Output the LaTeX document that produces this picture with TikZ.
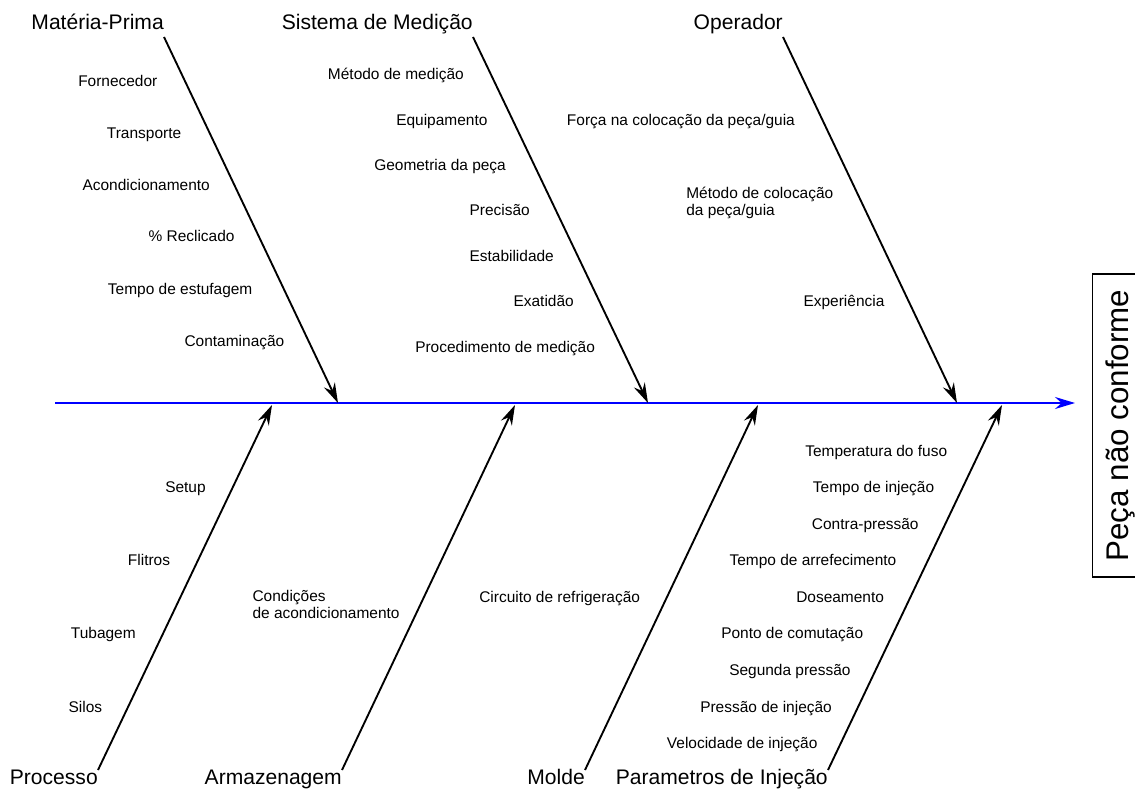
\documentclass[tikz,border=0pt]{standalone}
\usepackage{fontspec}
\setmainfont{Liberation Sans}
\usepackage{xcolor}
\definecolor{cSpine}{RGB}{0,0,255}
\definecolor{cBone}{RGB}{0,0,0}
\usepackage{tikz}
\usetikzlibrary{arrows.meta}
\tikzset{
  node-cause/.style={inner xsep=0pt,inner ysep=3pt,text height=0.73em,
    text depth=0.21em,font=\fontsize{15.8}{18}\selectfont},
  node-item/.style={inner sep=0pt,align=left,anchor=base west,
    font=\fontsize{11.6}{12.75}\selectfont},
  node-effect/.style={draw,line width=1.2pt,rotate=90,inner sep=0pt,
    minimum width=227pt,minimum height=41pt,font=\fontsize{23.5}{26}\selectfont},
  % espinha azul e ramos pretos
  arrow-bone/.style={-{Stealth[length=15pt,width=9pt,inset=5pt]},line width=1.4pt,draw=cBone},
  arrow-spine/.style={-{Stealth[length=15pt,width=9pt,inset=5pt]},line width=1.6pt,draw=cSpine},
}

\begin{document}
\begin{tikzpicture}[x=0.75pt,y=-0.75pt]
  \useasboundingbox (0,0) rectangle (1135,798);

  % espinha
  \coordinate (spS) at (55,403);
  \coordinate (spE) at (1075,403);
  \draw[arrow-spine] (spS) -- (spE);
  \node[node-effect] (eff) at (1120,425.5) {Peça não conforme};

  % causas de cima
  \node[node-cause,anchor=south east] (mp) at (164,37) {Matéria-Prima};
  \node[node-cause,anchor=south east] (sm) at (473,37) {Sistema de Medição};
  \node[node-cause,anchor=south east] (op) at (783,37) {Operador};
  \coordinate (mpE) at (338,403);
  \coordinate (smE) at (648,403);
  \coordinate (opE) at (957,403);
  \draw[arrow-bone] (mp.south east) -- (mpE);
  \draw[arrow-bone] (sm.south east) -- (smE);
  \draw[arrow-bone] (op.south east) -- (opE);

  % causas de baixo
  \node[node-cause,anchor=north east] (pr) at (98,770) {Processo};
  \node[node-cause,anchor=north east] (ar) at (342,770) {Armazenagem};
  \node[node-cause,anchor=north east] (mo) at (585,770) {Molde};
  \node[node-cause,anchor=north east] (pi) at (828,770) {Parametros de Injeção};
  \coordinate (prE) at (272,405);
  \coordinate (arE) at (515,405);
  \coordinate (moE) at (758,405);
  \coordinate (piE) at (1002,405);
  \draw[arrow-bone] (pr.north east) -- (prE);
  \draw[arrow-bone] (ar.north east) -- (arE);
  \draw[arrow-bone] (mo.north east) -- (moE);
  \draw[arrow-bone] (pi.north east) -- (piE);

  % Matéria-Prima
  \node[node-item] (mp1) at (78,87) {Fornecedor};
  \node[node-item] (mp2) at (106.7,139) {Transporte};
  \node[node-item] (mp3) at (82.3,190.5) {Acondicionamento};
  \node[node-item] (mp4) at (148.3,242) {\% Reclicado};
  \node[node-item] (mp5) at (107.7,294.3) {Tempo de estufagem};
  \node[node-item] (mp6) at (184.3,346.5) {Contaminação};

  % Sistema de Medição
  \node[node-item] (sm1) at (327.7,79.3) {Método de medição};
  \node[node-item] (sm2) at (396,125.3) {Equipamento};
  \node[node-item] (sm3) at (374,171) {Geometria da peça};
  \node[node-item] (sm4) at (469.3,216) {Precisão};
  \node[node-item] (sm5) at (469.3,261.7) {Estabilidade};
  \node[node-item] (sm6) at (513.3,307) {Exatidão};
  \node[node-item] (sm7) at (415,353) {Procedimento de medição};

  % Operador
  \node[node-item] (op1) at (566.7,125.3) {Força na colocação da peça/guia};
  \node[node-item] (op2) at (686,216) {Método de colocação\\da peça/guia};
  \node[node-item] (op3) at (803.3,307) {Experiência};

  % Processo
  \node[node-item] (pr1) at (165,492.7) {Setup};
  \node[node-item] (pr2) at (127.7,565.3) {Flitros};
  \node[node-item] (pr3) at (70.7,638.7) {Tubagem};
  \node[node-item] (pr4) at (68.3,712) {Silos};

  % Armazenagem e Molde
  \node[node-item] (ar1) at (252.3,618.7) {Condições\\de acondicionamento};
  \node[node-item] (mo1) at (479,602) {Circuito de refrigeração};

  % Parametros de Injeção
  \node[node-item] (pi1) at (805,456) {Temperatura do fuso};
  \node[node-item] (pi2) at (812.7,492.7) {Tempo de injeção};
  \node[node-item] (pi3) at (811.7,529.3) {Contra-pressão};
  \node[node-item] (pi4) at (729.3,565.3) {Tempo de arrefecimento};
  \node[node-item] (pi5) at (796,602) {Doseamento};
  \node[node-item] (pi6) at (721,638.7) {Ponto de comutação};
  \node[node-item] (pi7) at (729,675.3) {Segunda pressão};
  \node[node-item] (pi8) at (700,712) {Pressão de injeção};
  \node[node-item] (pi9) at (666.7,748.7) {Velocidade de injeção};
\end{tikzpicture}
\end{document}
